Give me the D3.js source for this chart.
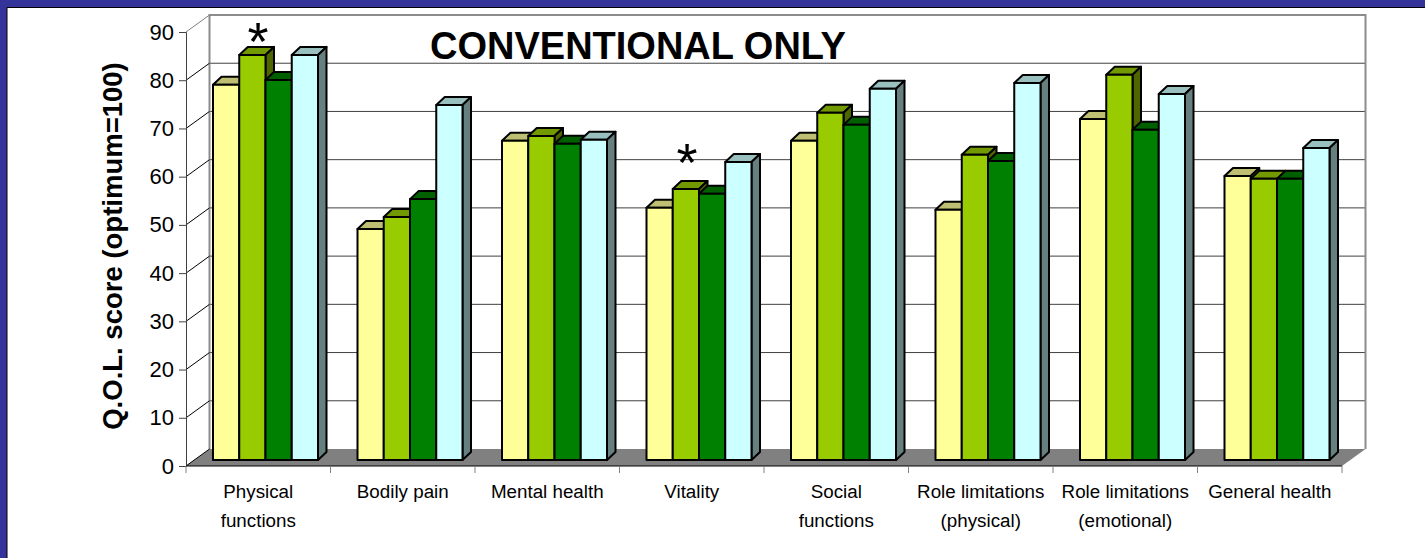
<!DOCTYPE html>
<html>
<head>
<meta charset="utf-8">
<script src="https://cdn.jsdelivr.net/npm/d3@7"></script>
<style>
  html, body { margin: 0; padding: 0; background: #fff; }
  svg { display: block; }
  text { font-family: "Liberation Sans", Arial, sans-serif; fill: #000; }
</style>
</head>
<body>
<div id="vis"></div>
<script>
const categories = ["Physical functions", "Bodily pain", "Mental health", "Vitality",
  "Social functions", "Role limitations (physical)", "Role limitations (emotional)", "General health"];
const categoryLines = [["Physical", "functions"], ["Bodily pain"], ["Mental health"], ["Vitality"],
  ["Social", "functions"], ["Role limitations", "(physical)"], ["Role limitations", "(emotional)"], ["General health"]];

const seriesA = [77.8, 47.9, 66.2, 52.3, 66.2, 51.9, 70.7, 58.9];
const seriesB = [84.0, 50.4, 67.2, 56.2, 72.0, 63.3, 79.9, 58.3];
const seriesC = [78.8, 54.1, 65.6, 55.2, 69.5, 62.0, 68.5, 58.3];
const seriesD = [84.0, 73.6, 66.4, 61.8, 77.0, 78.2, 75.9, 64.7];
const seriesValues = [seriesA, seriesB, seriesC, seriesD];
const yTicks = [0, 10, 20, 30, 40, 50, 60, 70, 80, 90];

const frontColors = ["#FFFF99", "#99CC00", "#008000", "#CCFFFF"];
const topColors = ["#BFBF73", "#739900", "#006000", "#99BFBF"];
const sideColors = ["#808040", "#4D6600", "#004000", "#668080"];

const ctx = {
    w: 1425, h: 558,
    left: 186, right: 1342,
    bottom: 466, top: 32,
    wallDx: 23.5, wallDy: 17,
    barDx: 8.5, barDy: 8,
    barLift: 6
};

const svg = d3.select("#vis").append("svg").attr("width", ctx.w).attr("height", ctx.h);

const x0 = d3.scaleBand().domain(categories).range([ctx.left, ctx.right]);
const x1 = d3.scaleBand().domain(d3.range(4)).range([27, 132]);
const y = d3.scaleLinear().domain([0, 90]).range([ctx.bottom, ctx.top]);

// slide frame
svg.append("rect").attr("width", ctx.w).attr("height", 7).attr("fill", "#333399");
svg.append("rect").attr("width", 7).attr("height", ctx.h).attr("fill", "#333399");
svg.append("path").attr("d", `M7,${ctx.h}V7.5H${ctx.w}`).attr("fill", "none").attr("stroke", "#000").attr("stroke-width", 1);

// floor and back wall
const chart = svg.append("g");
chart.append("path")
    .attr("d", `M${ctx.left},${ctx.bottom}l${ctx.wallDx},${-ctx.wallDy}H${ctx.right + ctx.wallDx}l${-ctx.wallDx},${ctx.wallDy}Z`)
    .attr("fill", "#808080");
chart.append("g").selectAll("line").data(yTicks.slice(1, -1)).enter().append("line")
    .attr("x1", ctx.left + ctx.wallDx).attr("x2", ctx.right + ctx.wallDx)
    .attr("y1", d => y(d) - ctx.wallDy).attr("y2", d => y(d) - ctx.wallDy)
    .attr("stroke", "#404040").attr("stroke-width", 1);
chart.append("path")
    .attr("d", `M${ctx.left + ctx.wallDx},${y(0) - ctx.wallDy}V${y(90) - ctx.wallDy}H${ctx.right + ctx.wallDx}V${y(0) - ctx.wallDy}`)
    .attr("fill", "none").attr("stroke", "#8c8c8c").attr("stroke-width", 2);

// side wall links
chart.append("g").selectAll("line").data(yTicks).enter().append("line")
    .attr("x1", ctx.left).attr("x2", ctx.left + ctx.wallDx)
    .attr("y1", d => y(d)).attr("y2", d => y(d) - ctx.wallDy)
    .attr("stroke", d => d === 90 ? "#808080" : "#000").attr("stroke-width", 1);

// axes
const yAxis = chart.append("g").attr("transform", `translate(${ctx.left},0)`)
    .call(d3.axisLeft(y).tickValues(yTicks).tickSize(7).tickPadding(5));
yAxis.select(".domain").attr("stroke", "#404040");
yAxis.selectAll(".tick line").attr("stroke", "#404040");
yAxis.selectAll("text").style("font-size", "22px").style("font-family", "Liberation Sans");

chart.append("line").attr("x1", ctx.left).attr("x2", ctx.right)
    .attr("y1", ctx.bottom).attr("y2", ctx.bottom).attr("stroke", "#000");
const xTicks = categories.map(c => x0(c)).concat([ctx.right]);
chart.append("g").selectAll("line").data(xTicks).enter().append("line")
    .attr("x1", d => d).attr("x2", d => d)
    .attr("y1", ctx.bottom).attr("y2", ctx.bottom + 7)
    .attr("stroke", "#808080");

const labels = chart.append("g").selectAll("text").data(categories).enter().append("text")
    .attr("text-anchor", "middle").style("font-size", "18.8px")
    .attr("transform", d => `translate(${x0(d) + x0.bandwidth() / 2},0)`);
labels.each(function (d, i) {
    d3.select(this).selectAll("tspan").data(categoryLines[i]).enter().append("tspan")
        .attr("x", 0).attr("y", (l, j) => 498 + j * 29).text(l => l);
});

// bars, group by group, left to right so later bars cover earlier sides
categories.forEach((cat, c) => {
    const g = chart.append("g").attr("transform", `translate(${x0(cat)},${-ctx.barLift})`);
    seriesValues.forEach((vals, s) => {
        const bx = x1(s), bw = x1.bandwidth(), by = y(vals[c]), base = y(0);
        const bar = g.append("g").attr("stroke", "#000").attr("stroke-width", 2).attr("stroke-linejoin", "round");
        bar.append("path")
            .attr("d", `M${bx},${by}l${ctx.barDx},${-ctx.barDy}h${bw}l${-ctx.barDx},${ctx.barDy}Z`)
            .attr("fill", topColors[s]);
        bar.append("path")
            .attr("d", `M${bx + bw},${by}l${ctx.barDx},${-ctx.barDy}V${base - ctx.barDy}l${-ctx.barDx},${ctx.barDy}Z`)
            .attr("fill", sideColors[s]);
        bar.append("rect").attr("x", bx).attr("y", by).attr("width", bw).attr("height", base - by)
            .attr("fill", frontColors[s]);
    });
});

// annotations
svg.append("text").attr("text-anchor", "middle").style("font-size", "54px").attr("x", 258).attr("y", 60).text("*");
svg.append("text").attr("text-anchor", "middle").style("font-size", "54px").attr("x", 687).attr("y", 181).text("*");
svg.append("text").attr("x", 430).attr("y", 59).style("font-size", "38px").style("font-weight", "bold")
    .text("CONVENTIONAL ONLY");
svg.append("text").attr("transform", "translate(122,246) rotate(-90)").attr("text-anchor", "middle")
    .style("font-size", "27.5px").style("font-weight", "bold")
    .text("Q.O.L. score (optimum=100)");
</script>
</body>
</html>
